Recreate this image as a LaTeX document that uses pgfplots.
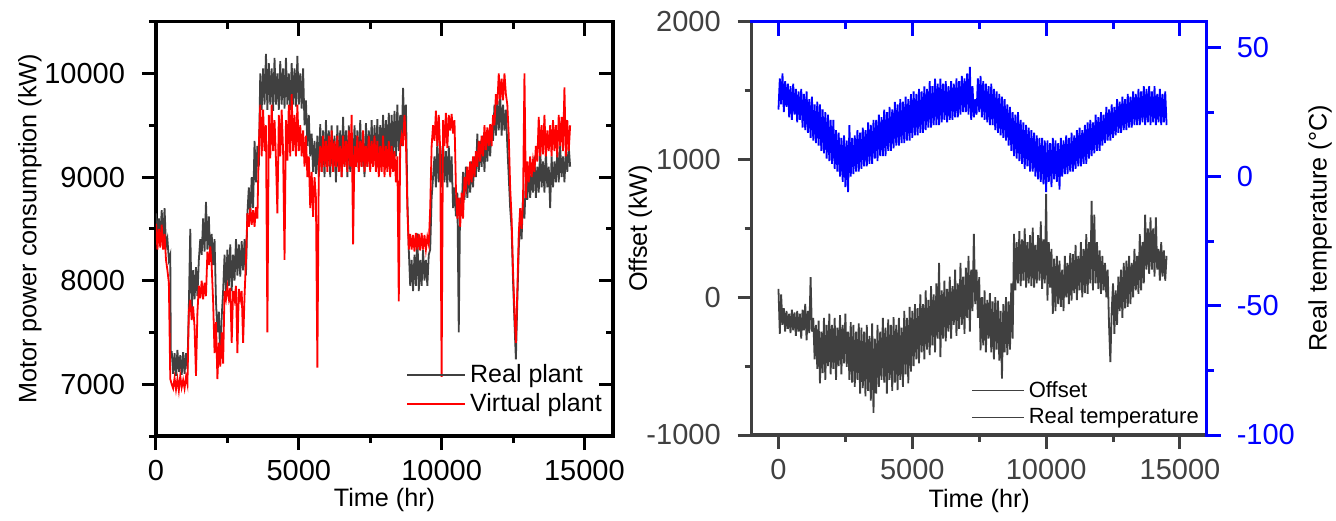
\documentclass[border=0pt]{standalone}
\usepackage{fontspec}
\setmainfont{Liberation Sans}
\usepackage{pgfplots}
\usepackage{pgfplotstable}
\pgfplotsset{compat=1.18}
\definecolor{dgray}{HTML}{404040}
\definecolor{pblue}{HTML}{0000FF}
\definecolor{pred}{HTML}{FF0000}

\pgfplotstableread[row sep=\\]{x y\\
0 8650\\ 50 8450\\ 100 8600\\ 150 8420\\ 200 8680\\ 250 8380\\ 300 8700\\ 350 8330\\ 400 8400\\ 450 8200\\
500 8250\\ 520 7250\\ 550 7320\\ 600 7100\\ 650 7300\\ 700 7080\\ 750 7330\\ 800 7120\\ 850 7280\\ 900 7090\\
950 7310\\ 1000 7100\\ 1050 7300\\ 1100 7150\\ 1150 7750\\ 1200 8500\\ 1250 7700\\ 1300 8100\\ 1350 7820\\ 1400 8130\\
1450 7850\\ 1500 8200\\ 1550 8400\\ 1600 8250\\ 1650 8600\\ 1700 8280\\ 1750 8760\\ 1800 8300\\ 1850 8620\\ 1900 8200\\
1950 8450\\ 2000 8150\\ 2050 8400\\ 2100 7800\\ 2150 7500\\ 2200 7700\\ 2250 7240\\ 2300 7650\\ 2350 7900\\ 2400 8250\\
2450 7900\\ 2500 8300\\ 2550 7950\\ 2600 8350\\ 2650 7900\\ 2700 8250\\ 2750 8000\\ 2800 8400\\ 2850 8050\\ 2900 8350\\
2950 8040\\ 3000 8380\\ 3050 8100\\ 3100 8400\\ 3150 8050\\ 3200 8650\\ 3250 8900\\ 3300 8620\\ 3350 9000\\ 3400 8700\\
3450 9350\\ 3500 8950\\ 3550 9300\\ 3600 9100\\ 3650 10000\\ 3700 9650\\ 3750 10050\\ 3800 9700\\ 3850 10190\\ 3900 9650\\
3950 10100\\ 4000 9700\\ 4050 10050\\ 4100 9640\\ 4150 10150\\ 4200 9700\\ 4250 10000\\ 4300 9650\\ 4350 10120\\ 4400 9700\\
4450 10050\\ 4500 9660\\ 4550 10150\\ 4600 9700\\ 4650 10000\\ 4700 9650\\ 4750 10100\\ 4800 9700\\ 4850 10050\\ 4900 9680\\
4950 10170\\ 5000 9700\\ 5050 10000\\ 5100 9660\\ 5150 10050\\ 5200 9500\\ 5250 9740\\ 5300 9300\\ 5350 9600\\ 5400 9200\\
5450 9420\\ 5500 9050\\ 5550 9350\\ 5600 9030\\ 5650 9400\\ 5700 9000\\ 5750 9510\\ 5800 9050\\ 5850 9450\\ 5900 9000\\
5950 9550\\ 6000 9100\\ 6050 9450\\ 6100 9000\\ 6150 9500\\ 6200 9050\\ 6250 9400\\ 6300 8950\\ 6350 9500\\ 6400 9050\\
6450 9450\\ 6500 9000\\ 6550 9580\\ 6600 9100\\ 6650 9450\\ 6700 9000\\ 6750 9500\\ 6800 9050\\ 6850 9400\\ 6900 9000\\
6950 9500\\ 7000 9100\\ 7050 9450\\ 7100 9050\\ 7150 9550\\ 7200 9100\\ 7250 9400\\ 7300 9000\\ 7350 9520\\ 7400 9100\\
7450 9450\\ 7500 9150\\ 7550 9550\\ 7600 9100\\ 7650 9500\\ 7700 9150\\ 7750 9560\\ 7800 9100\\ 7850 9500\\ 7900 9200\\
7950 9600\\ 8000 9150\\ 8050 9550\\ 8100 9200\\ 8150 9620\\ 8200 9160\\ 8250 9600\\ 8300 9200\\ 8350 9640\\ 8400 9200\\
8450 9700\\ 8500 9250\\ 8550 9600\\ 8600 9300\\ 8650 9860\\ 8700 9400\\ 8750 9700\\ 8800 8800\\ 8850 8300\\ 8900 7950\\
8950 8200\\ 9000 7900\\ 9050 8250\\ 9100 7950\\ 9150 8455\\ 9200 7900\\ 9250 8200\\ 9300 7950\\ 9350 8300\\ 9400 8000\\
9450 8200\\ 9500 7950\\ 9550 8250\\ 9600 8300\\ 9650 8800\\ 9700 9000\\ 9750 9200\\ 9800 8900\\ 9850 9350\\ 9900 8950\\
9950 9300\\ 10000 8900\\ 10050 9350\\ 10100 8950\\ 10150 9250\\ 10200 8900\\ 10250 9300\\ 10300 8950\\ 10350 9200\\ 10400 8700\\
10450 8900\\ 10500 8620\\ 10550 8850\\ 10600 7500\\ 10650 8800\\ 10700 8650\\ 10750 9050\\ 10800 8780\\ 10850 9100\\ 10900 8800\\
10950 9050\\ 11000 8850\\ 11050 9150\\ 11100 8900\\ 11150 9200\\ 11200 9000\\ 11250 9420\\ 11300 9050\\ 11350 9350\\ 11400 9100\\
11450 9400\\ 11500 9050\\ 11550 9420\\ 11600 9150\\ 11650 9450\\ 11700 9200\\ 11750 9500\\ 11800 9350\\ 11850 9700\\ 11900 9400\\
11950 9740\\ 12000 9450\\ 12050 9800\\ 12100 9400\\ 12150 9700\\ 12200 9450\\ 12250 9650\\ 12300 9300\\ 12350 9000\\ 12400 8700\\
12450 8500\\ 12500 8000\\ 12550 7600\\ 12600 7240\\ 12650 7800\\ 12700 8300\\ 12750 8615\\ 12800 8400\\ 12850 8800\\ 12900 8600\\
12950 9000\\ 13000 8780\\ 13050 9100\\ 13100 8800\\ 13150 9050\\ 13200 8850\\ 13250 9200\\ 13300 8800\\ 13350 9100\\ 13400 8850\\
13450 9290\\ 13500 8900\\ 13550 9150\\ 13600 8850\\ 13650 9250\\ 13700 8900\\ 13750 9100\\ 13800 8700\\ 13850 9200\\ 13900 8900\\
13950 9150\\ 14000 8950\\ 14050 9250\\ 14100 8950\\ 14150 9300\\ 14200 9000\\ 14250 9200\\ 14300 8950\\ 14350 9250\\ 14400 9050\\
14450 9300\\ 14500 9100\\
}\realtab

\pgfplotstableread[row sep=\\]{x y\\
0 8550\\ 50 8300\\ 100 8500\\ 150 8320\\ 200 8540\\ 250 8300\\ 300 8450\\ 350 8200\\ 400 8100\\ 450 7980\\
500 7050\\ 550 7000\\ 600 6960\\ 650 7060\\ 700 6950\\ 750 7050\\ 800 6940\\ 850 7080\\ 900 6970\\ 950 7040\\
1000 6960\\ 1050 7070\\ 1100 7000\\ 1150 7700\\ 1200 7815\\ 1250 7620\\ 1300 7750\\ 1350 7550\\ 1400 7080\\ 1450 7690\\
1500 7950\\ 1550 7830\\ 1600 8000\\ 1650 7820\\ 1700 7980\\ 1750 7850\\ 1800 8280\\ 1850 8150\\ 1900 8330\\ 1950 8140\\
2000 7800\\ 2050 7300\\ 2100 7600\\ 2150 7050\\ 2200 7400\\ 2250 7170\\ 2300 7500\\ 2350 7200\\ 2400 7900\\ 2450 7820\\
2500 7940\\ 2550 7830\\ 2600 7930\\ 2650 7400\\ 2700 7900\\ 2750 7820\\ 2800 7950\\ 2850 7300\\ 2900 7920\\ 2950 7820\\
3000 7900\\ 3050 7400\\ 3100 7850\\ 3150 8200\\ 3200 8650\\ 3250 8520\\ 3300 8700\\ 3350 8540\\ 3400 8680\\ 3450 8520\\
3500 8710\\ 3550 8600\\ 3600 9300\\ 3650 9700\\ 3700 9200\\ 3750 9650\\ 3800 9250\\ 3850 9500\\ 3900 7500\\ 3950 9600\\
4000 9180\\ 4050 9700\\ 4100 9250\\ 4150 9550\\ 4200 9170\\ 4250 8650\\ 4300 9600\\ 4350 9200\\ 4400 9650\\ 4450 9250\\
4500 8200\\ 4550 9550\\ 4600 9160\\ 4650 9700\\ 4700 9200\\ 4750 9800\\ 4800 9250\\ 4850 9600\\ 4900 9200\\ 4950 9700\\
5000 9250\\ 5050 9500\\ 5100 9200\\ 5150 9450\\ 5200 9100\\ 5250 9400\\ 5300 9000\\ 5350 9200\\ 5400 8700\\ 5450 9050\\
5500 8615\\ 5550 9000\\ 5600 8800\\ 5650 7160\\ 5700 9100\\ 5750 9300\\ 5800 9050\\ 5850 9400\\ 5900 9100\\ 5950 9350\\
6000 9050\\ 6050 9400\\ 6100 9100\\ 6150 9450\\ 6200 9050\\ 6250 9350\\ 6300 9100\\ 6350 9400\\ 6400 9050\\ 6450 9300\\
6500 9000\\ 6550 9400\\ 6600 9100\\ 6650 9350\\ 6700 9050\\ 6750 9450\\ 6800 9100\\ 6850 9600\\ 6900 8350\\ 6950 9300\\
7000 9100\\ 7050 9400\\ 7100 9050\\ 7150 9350\\ 7200 9100\\ 7250 9450\\ 7300 9050\\ 7350 9300\\ 7400 9100\\ 7450 9400\\
7500 9050\\ 7550 9350\\ 7600 9100\\ 7650 9400\\ 7700 9050\\ 7750 9350\\ 7800 9000\\ 7850 9300\\ 7900 9050\\ 7950 9400\\
8000 9000\\ 8050 9300\\ 8100 9050\\ 8150 9350\\ 8200 9000\\ 8250 9300\\ 8300 9050\\ 8350 9250\\ 8400 8950\\ 8450 9200\\
8500 7800\\ 8550 9300\\ 8600 9400\\ 8650 9300\\ 8700 9600\\ 8750 9350\\ 8800 8700\\ 8850 8300\\ 8900 8450\\ 8950 8300\\
9000 8440\\ 9050 8280\\ 9100 8460\\ 9150 8300\\ 9200 8450\\ 9250 8290\\ 9300 8460\\ 9350 8300\\ 9400 8440\\ 9450 8300\\
9500 8420\\ 9550 8350\\ 9600 8700\\ 9650 9300\\ 9700 9500\\ 9750 9350\\ 9800 9640\\ 9850 9300\\ 9900 9600\\ 9950 9260\\
10000 7070\\ 10050 9550\\ 10100 9300\\ 10150 9620\\ 10200 9280\\ 10250 9600\\ 10300 9450\\ 10350 9610\\ 10400 9420\\ 10450 9550\\
10500 8900\\ 10550 8600\\ 10600 8800\\ 10650 8520\\ 10700 8850\\ 10750 8600\\ 10800 9000\\ 10850 8900\\ 10900 9100\\ 10950 8920\\
11000 9150\\ 11050 8950\\ 11100 9200\\ 11150 9000\\ 11200 9250\\ 11250 9100\\ 11300 9350\\ 11350 9150\\ 11400 9400\\ 11450 9200\\
11500 9500\\ 11550 9260\\ 11600 9480\\ 11650 9300\\ 11700 9510\\ 11750 9300\\ 11800 9600\\ 11850 9500\\ 11900 9800\\ 11950 9700\\
12000 10000\\ 12050 9750\\ 12100 9950\\ 12150 9740\\ 12200 10000\\ 12250 9800\\ 12300 9700\\ 12350 9400\\ 12400 8900\\ 12450 8600\\
12500 8100\\ 12550 7700\\ 12600 7400\\ 12650 7900\\ 12700 8450\\ 12750 8700\\ 12800 8500\\ 12850 8775\\ 12900 10000\\ 12950 8800\\
13000 9150\\ 13050 8950\\ 13100 9200\\ 13150 9000\\ 13200 9160\\ 13250 9050\\ 13300 9300\\ 13350 9150\\ 13400 9580\\ 13450 9200\\
13500 9500\\ 13550 9220\\ 13600 9600\\ 13650 9200\\ 13700 9450\\ 13750 9250\\ 13800 9500\\ 13850 9200\\ 13900 9550\\ 13950 9250\\
14000 9500\\ 14050 9190\\ 14100 9600\\ 14150 9300\\ 14200 9580\\ 14250 9250\\ 14300 9865\\ 14350 9200\\ 14400 9550\\ 14450 9250\\
14500 9500\\
}\virttab

\pgfplotstableread[row sep=\\]{x y\\
0 60\\ 50 -265\\ 100 20\\ 150 -200\\ 200 -80\\ 250 -250\\ 300 -100\\ 350 -230\\ 400 -120\\ 450 -260\\
500 -90\\ 550 -240\\ 600 -110\\ 650 -280\\ 700 -100\\ 750 -250\\ 800 -120\\ 850 -300\\ 900 -90\\ 950 -240\\
1000 -48\\ 1050 -313\\ 1100 -100\\ 1150 -260\\ 1200 145\\ 1250 -250\\ 1300 -150\\ 1350 -450\\ 1400 -200\\ 1450 -520\\
1500 -170\\ 1550 -625\\ 1600 -250\\ 1650 -550\\ 1700 -150\\ 1750 -600\\ 1800 -200\\ 1850 -500\\ 1900 -120\\ 1950 -560\\
2000 -200\\ 2050 -520\\ 2100 -150\\ 2150 -600\\ 2200 -220\\ 2250 -500\\ 2300 -130\\ 2350 -560\\ 2400 -200\\ 2450 -480\\
2500 -120\\ 2550 -505\\ 2600 -250\\ 2650 -600\\ 2700 -180\\ 2750 -620\\ 2800 -200\\ 2850 -650\\ 2900 -250\\ 2950 -600\\
3000 -190\\ 3050 -700\\ 3100 -220\\ 3150 -660\\ 3200 -250\\ 3250 -720\\ 3300 -200\\ 3350 -680\\ 3400 -280\\ 3450 -750\\
3500 -190\\ 3550 -840\\ 3600 -300\\ 3650 -700\\ 3700 -200\\ 3750 -650\\ 3800 -250\\ 3850 -600\\ 3900 -150\\ 3950 -620\\
4000 -220\\ 4050 -700\\ 4100 -160\\ 4150 -600\\ 4200 -200\\ 4250 -680\\ 4300 -145\\ 4350 -620\\ 4400 -200\\ 4450 -675\\
4500 -150\\ 4550 -600\\ 4600 -220\\ 4650 -650\\ 4700 -100\\ 4750 -560\\ 4800 -150\\ 4850 -625\\ 4900 -70\\ 4950 -540\\
5000 -100\\ 5050 -500\\ 5100 -50\\ 5150 -450\\ 5200 -80\\ 5250 -480\\ 5300 20\\ 5350 -400\\ 5400 -50\\ 5450 -450\\
5500 50\\ 5550 -380\\ 5600 -20\\ 5650 -420\\ 5700 80\\ 5750 -350\\ 5800 20\\ 5850 -400\\ 5900 100\\ 5950 -300\\
6000 250\\ 6050 -435\\ 6100 50\\ 6150 -300\\ 6200 120\\ 6250 -320\\ 6300 60\\ 6350 -250\\ 6400 150\\ 6450 -300\\
6500 80\\ 6550 -200\\ 6600 200\\ 6650 -280\\ 6700 100\\ 6750 -230\\ 6800 250\\ 6850 -200\\ 6900 150\\ 6950 -265\\
7000 215\\ 7050 -150\\ 7100 300\\ 7150 -250\\ 7200 200\\ 7250 -100\\ 7300 460\\ 7350 -50\\ 7400 200\\ 7450 -150\\
7500 145\\ 7550 -385\\ 7600 0\\ 7650 -350\\ 7700 50\\ 7750 -400\\ 7800 -20\\ 7850 -300\\ 7900 30\\ 7950 -400\\
8000 -30\\ 8050 -450\\ 8100 0\\ 8150 -380\\ 8200 -25\\ 8250 -460\\ 8300 -100\\ 8350 -590\\ 8400 -50\\ 8450 -400\\
8500 0\\ 8550 -420\\ 8600 -30\\ 8650 -380\\ 8700 100\\ 8750 -300\\ 8800 460\\ 8850 50\\ 8900 400\\ 8950 100\\
9000 480\\ 9050 80\\ 9100 420\\ 9150 120\\ 9200 500\\ 9250 70\\ 9300 400\\ 9350 100\\ 9400 450\\ 9450 80\\
9500 505\\ 9550 70\\ 9600 380\\ 9650 100\\ 9700 450\\ 9750 120\\ 9800 550\\ 9850 60\\ 9900 420\\ 9950 100\\
10000 750\\ 10050 -25\\ 10100 400\\ 10150 70\\ 10200 350\\ 10250 -120\\ 10300 280\\ 10350 -100\\ 10400 300\\ 10450 -50\\
10500 265\\ 10550 -70\\ 10600 200\\ 10650 -100\\ 10700 300\\ 10750 0\\ 10800 250\\ 10850 -50\\ 10900 320\\ 10950 -25\\
11000 313\\ 11050 30\\ 11100 380\\ 11150 -20\\ 11200 300\\ 11250 50\\ 11300 400\\ 11350 0\\ 11400 350\\ 11450 30\\
11500 458\\ 11550 25\\ 11600 400\\ 11650 100\\ 11700 700\\ 11750 50\\ 11800 600\\ 11850 100\\ 11900 400\\ 11950 60\\
12000 340\\ 12050 25\\ 12100 300\\ 12150 50\\ 12200 250\\ 12250 0\\ 12300 200\\ 12350 -200\\ 12400 -470\\ 12450 -100\\
12500 100\\ 12550 -265\\ 12600 50\\ 12650 -200\\ 12700 150\\ 12750 -100\\ 12800 200\\ 12850 -150\\ 12900 250\\ 12950 -80\\
13000 265\\ 13050 -70\\ 13100 300\\ 13150 -50\\ 13200 250\\ 13250 0\\ 13300 350\\ 13350 50\\ 13400 300\\ 13450 25\\
13500 458\\ 13550 50\\ 13600 400\\ 13650 100\\ 13700 600\\ 13750 200\\ 13800 500\\ 13850 170\\ 13900 580\\ 13950 200\\
14000 500\\ 14050 150\\ 14100 580\\ 14150 200\\ 14200 350\\ 14250 120\\ 14300 400\\ 14350 150\\ 14400 340\\ 14450 120\\
14500 300\\
}\offtab

\pgfplotstableread[row sep=\\]{x y\\
0 26\\ 50 38\\ 100 28\\ 150 40\\ 200 25\\ 250 37\\ 300 27\\ 350 36\\ 400 23\\ 450 35\\
500 22\\ 550 36\\ 600 24\\ 650 34\\ 700 21\\ 750 33\\ 800 22\\ 850 34\\ 900 19\\ 950 32\\
1000 18\\ 1050 33\\ 1100 17\\ 1150 30\\ 1200 15\\ 1250 31\\ 1300 14\\ 1350 28\\ 1400 13\\ 1450 29\\
1500 12\\ 1550 28\\ 1600 10\\ 1650 26\\ 1700 9\\ 1750 25\\ 1800 7\\ 1850 24\\ 1900 6\\ 1950 22\\
2000 5\\ 2050 22\\ 2100 3\\ 2150 18\\ 2200 2\\ 2250 17\\ 2300 0\\ 2350 15\\ 2400 -2\\ 2450 16\\
2500 -4\\ 2550 14\\ 2600 -6\\ 2650 20\\ 2700 0\\ 2750 15\\ 2800 1\\ 2850 16\\ 2900 2\\ 2950 18\\
3000 2\\ 3050 17\\ 3100 3\\ 3150 19\\ 3200 4\\ 3250 18\\ 3300 4\\ 3350 21\\ 3400 5\\ 3450 20\\
3500 5\\ 3550 22\\ 3600 7\\ 3650 22\\ 3700 6\\ 3750 24\\ 3800 8\\ 3850 23\\ 3900 8\\ 3950 26\\
4000 8\\ 4050 25\\ 4100 10\\ 4150 27\\ 4200 10\\ 4250 26\\ 4300 11\\ 4350 29\\ 4400 12\\ 4450 28\\
4500 12\\ 4550 30\\ 4600 13\\ 4650 29\\ 4700 13\\ 4750 31\\ 4800 14\\ 4850 30\\ 4900 14\\ 4950 32\\
5000 15\\ 5050 33\\ 5100 16\\ 5150 32\\ 5200 16\\ 5250 34\\ 5300 17\\ 5350 33\\ 5400 17\\ 5450 35\\
5500 18\\ 5550 34\\ 5600 19\\ 5650 37\\ 5700 19\\ 5750 35\\ 5800 20\\ 5850 38\\ 5900 20\\ 5950 36\\
6000 20\\ 6050 38\\ 6100 21\\ 6150 36\\ 6200 22\\ 6250 37\\ 6300 21\\ 6350 35\\ 6400 22\\ 6450 37\\
6500 22\\ 6550 36\\ 6600 23\\ 6650 38\\ 6700 23\\ 6750 37\\ 6800 24\\ 6850 39\\ 6900 25\\ 6950 38\\
7000 25\\ 7050 40\\ 7100 24\\ 7150 42.5\\ 7200 22\\ 7250 35\\ 7300 23\\ 7350 30\\ 7400 24\\ 7450 38\\
7500 25\\ 7550 39\\ 7600 23\\ 7650 37\\ 7700 22\\ 7750 36\\ 7800 21\\ 7850 35\\ 7900 20\\ 7950 36\\
8000 20\\ 8050 34\\ 8100 18\\ 8150 33\\ 8200 17\\ 8250 32\\ 8300 16\\ 8350 31\\ 8400 15\\ 8450 30\\
8500 14\\ 8550 28\\ 8600 12\\ 8650 27\\ 8700 10\\ 8750 25\\ 8800 8\\ 8850 24\\ 8900 7\\ 8950 25\\
9000 6\\ 9050 22\\ 9100 5\\ 9150 21\\ 9200 3\\ 9250 20\\ 9300 4\\ 9350 19\\ 9400 2\\ 9450 18\\
9500 2\\ 9550 17\\ 9600 0\\ 9650 16\\ 9700 -1\\ 9750 15\\ 9800 -2\\ 9850 15\\ 9900 -3\\ 9950 14\\
10000 -6\\ 10050 14\\ 10100 -2\\ 10150 13\\ 10200 -4\\ 10250 15\\ 10300 -1\\ 10350 14\\ 10400 -2\\ 10450 13\\
10500 -5\\ 10550 15\\ 10600 0\\ 10650 14\\ 10700 1\\ 10750 16\\ 10800 1\\ 10850 15\\ 10900 2\\ 10950 17\\
11000 2\\ 11050 16\\ 11100 3\\ 11150 18\\ 11200 4\\ 11250 19\\ 11300 4\\ 11350 18\\ 11400 5\\ 11450 20\\
11500 5\\ 11550 21\\ 11600 7\\ 11650 22\\ 11700 8\\ 11750 21\\ 11800 9\\ 11850 24\\ 11900 10\\ 11950 23\\
12000 10\\ 12050 25\\ 12100 12\\ 12150 24\\ 12200 13\\ 12250 27\\ 12300 14\\ 12350 26\\ 12400 14\\ 12450 28\\
12500 15\\ 12550 27\\ 12600 16\\ 12650 30\\ 12700 17\\ 12750 29\\ 12800 17\\ 12850 31\\ 12900 18\\ 12950 30\\
13000 18\\ 13050 32\\ 13100 19\\ 13150 31\\ 13200 19\\ 13250 33\\ 13300 20\\ 13350 32\\ 13400 20\\ 13450 34\\
13500 20\\ 13550 33\\ 13600 21\\ 13650 35\\ 13700 20\\ 13750 34\\ 13800 21\\ 13850 35\\ 13900 20\\ 13950 33\\
14000 21\\ 14050 35\\ 14100 20\\ 14150 32\\ 14200 21\\ 14250 34\\ 14300 20\\ 14350 32\\ 14400 21\\ 14450 33\\
14500 20\\
}\temptab

\newcommand{\tickfont}{\fontsize{14.5}{17}\selectfont}
\newcommand{\labfont}{\fontsize{12.6}{15}\selectfont}

\pgfplotsset{
  base/.style={
    scale only axis,
    anchor=south west,
    scaled ticks=false,
    /pgf/number format/assume math mode=true,
    /pgf/number format/1000 sep={},
    major tick length=7pt,
    minor tick length=3.5pt,
    every tick/.append style={line width=1.5pt, draw=#1},
    every outer x axis line/.append style={-, line width=1.6pt, line cap=rect, draw=#1},
    every outer y axis line/.append style={-, line width=1.6pt, line cap=rect, draw=#1},
    every inner x axis line/.append style={-},
    every inner y axis line/.append style={-},
    every axis y label/.style={rotate=90, anchor=center},
    every axis x label/.style={anchor=center},
  },
  labs/.style={
    xticklabel={\tickfont\pgfmathprintnumber{\tick}},
    yticklabel={\tickfont\pgfmathprintnumber{\tick}},
    x tick label style={yshift=-1.5pt},
  },
}

\begin{document}
\begin{tikzpicture}
\useasboundingbox (0,0) rectangle (668pt,260pt);

% ---------- left panel ----------
\begin{axis}[base=black, labs,
  at={(78pt,42pt)}, width=228.5pt, height=207.15pt,
  xmin=0, xmax=16000, ymin=6500, ymax=10500,
  axis x line*=bottom, axis y line*=left, tick align=outside,
  y tick label style={xshift=-5pt},
  xtick={0,5000,10000,15000}, minor xtick={2500,7500,12500},
  ytick={7000,8000,9000,10000}, minor ytick={6500,7500,8500,9500,10500},
  xlabel={\labfont Time (hr)}, ylabel={\labfont Motor power consumption (kW)},
  x label style={at={(axis description cs:0.5,-0.154)}},
  y label style={at={(axis description cs:-0.276,0.5)}},
  legend style={draw=none, fill=none, at={(axis description cs:0.547,0.183)}, anchor=north west,
    font=\fontsize{12.5}{15}\selectfont, inner sep=0pt, row sep=0pt},
  legend cell align=left,
  legend image code/.code={\draw[#1, line width=0.9pt] (0pt,0pt) -- (29pt,0pt);},
]
\addplot[dgray, line width=0.9pt] table[x=x,y=y] {\realtab};
\addplot[pred, line width=0.9pt] table[x=x,y=y] {\virttab};
\legend{Real plant, Virtual plant}
\end{axis}
\begin{axis}[base=black,
  at={(78pt,42pt)}, width=228.5pt, height=207.15pt,
  xmin=0, xmax=16000, ymin=6500, ymax=10500,
  axis x line*=top, axis y line*=right, tick align=inside,
  xtick={0,5000,10000,15000}, minor xtick={2500,7500,12500},
  ytick={7000,8000,9000,10000}, minor ytick={6500,7500,8500,9500,10500},
  xticklabels={}, yticklabels={},
]
\end{axis}

% ---------- right panel ----------
\begin{axis}[base=dgray, labs,
  at={(375.85pt,42.5pt)}, width=227.5pt, height=206.65pt,
  xmin=-1000, xmax=16000, ymin=-1000, ymax=2000,
  axis x line*=bottom, axis y line*=left, tick align=outside,
  tick label style={text=dgray},
  y tick label style={xshift=-5pt},
  xtick={0,5000,10000,15000}, minor xtick={2500,7500,12500},
  ytick={-1000,0,1000,2000}, minor ytick={-500,500,1500},
  xlabel={\labfont Time (hr)}, ylabel={\labfont Offset (kW)},
  x label style={at={(axis description cs:0.5,-0.160)}},
  y label style={at={(axis description cs:-0.245,0.5)}},
  legend style={draw=none, fill=none, at={(axis description cs:0.482,0.141)}, anchor=north west,
    font=\fontsize{11}{13.5}\selectfont, inner sep=0pt, row sep=0pt},
  legend cell align=left,
  legend image code/.code={\draw[#1, line width=0.7pt] (0pt,0pt) -- (26pt,0pt);},
]
\addplot[dgray, line width=0.9pt] table[x=x,y=y] {\offtab};
\addlegendentry{Offset}
\addlegendimage{dgray, line width=0.6pt}
\addlegendentry{Real temperature}
\end{axis}
\begin{axis}[base=pblue, labs,
  at={(375.85pt,42.5pt)}, width=227.5pt, height=206.65pt,
  xmin=-1000, xmax=16000, ymin=-100, ymax=60,
  axis x line=none, axis y line*=right, tick align=outside,
  tick label style={text=pblue},
  y tick label style={xshift=4.5pt},
  ytick={-100,-50,0,50}, minor ytick={-75,-25,25},
  ylabel={\labfont Real temperature (°C)},
  y label style={at={(axis description cs:1.249,0.5)}},
]
\addplot[pblue, line width=0.9pt] table[x=x,y=y] {\temptab};
\end{axis}
\begin{axis}[base=pblue,
  at={(375.85pt,42.5pt)}, width=227.5pt, height=206.65pt,
  xmin=-1000, xmax=16000, ymin=-100, ymax=60,
  axis x line*=top, axis y line=none, tick align=inside,
  xtick={0,5000,10000,15000}, minor xtick={2500,7500,12500},
  xticklabels={},
]
\end{axis}
\end{tikzpicture}
\end{document}
